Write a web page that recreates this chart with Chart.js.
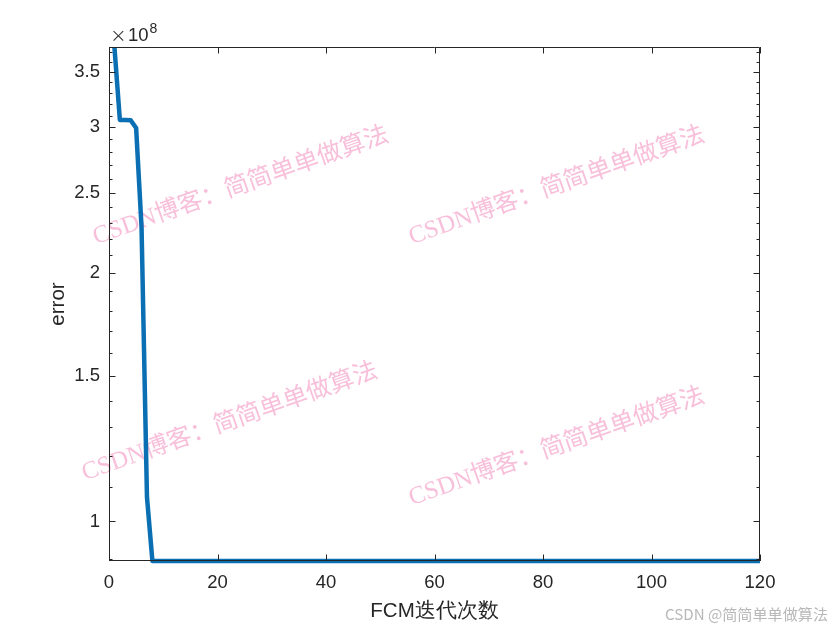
<!DOCTYPE html>
<html>
<head>
<meta charset="utf-8">
<script src="https://cdn.jsdelivr.net/npm/chart.js@4.4.1/dist/chart.umd.min.js"></script>
<style>
  html, body { margin: 0; padding: 0; background: #ffffff; }
  #wrap { width: 840px; height: 630px; position: relative; }
</style>
</head>
<body>
<div id="wrap"><canvas id="c" width="840" height="630"></canvas></div>
<script>
// ---- data (error in units of 1e8) ----
const iterations = [
  1,2,3,4,5,6,7,8,9,10,11,12,13,14,15,16,17,18,19,20,
  21,22,23,24,25,26,27,28,29,30,31,32,33,34,35,36,37,38,39,40,
  41,42,43,44,45,46,47,48,49,50,51,52,53,54,55,56,57,58,59,60,
  61,62,63,64,65,66,67,68,69,70,71,72,73,74,75,76,77,78,79,80,
  81,82,83,84,85,86,87,88,89,90,91,92,93,94,95,96,97,98,99,100,
  101,102,103,104,105,106,107,108,109,110,111,112,113,114,115,116,117,118,119,120
];
const errorValues = [
  3.753,3.063,3.063,3.060,2.995,2.27,1.07,0.8956,0.8956,0.8956,
  0.8956,0.8956,0.8956,0.8956,0.8956,0.8956,0.8956,0.8956,0.8956,0.8956,
  0.8956,0.8956,0.8956,0.8956,0.8956,0.8956,0.8956,0.8956,0.8956,0.8956,
  0.8956,0.8956,0.8956,0.8956,0.8956,0.8956,0.8956,0.8956,0.8956,0.8956,
  0.8956,0.8956,0.8956,0.8956,0.8956,0.8956,0.8956,0.8956,0.8956,0.8956,
  0.8956,0.8956,0.8956,0.8956,0.8956,0.8956,0.8956,0.8956,0.8956,0.8956,
  0.8956,0.8956,0.8956,0.8956,0.8956,0.8956,0.8956,0.8956,0.8956,0.8956,
  0.8956,0.8956,0.8956,0.8956,0.8956,0.8956,0.8956,0.8956,0.8956,0.8956,
  0.8956,0.8956,0.8956,0.8956,0.8956,0.8956,0.8956,0.8956,0.8956,0.8956,
  0.8956,0.8956,0.8956,0.8956,0.8956,0.8956,0.8956,0.8956,0.8956,0.8956,
  0.8956,0.8956,0.8956,0.8956,0.8956,0.8956,0.8956,0.8956,0.8956,0.8956,
  0.8956,0.8956,0.8956,0.8956,0.8956,0.8956,0.8956,0.8956,0.8956,0.8956
];
const xTicks = [0, 20, 40, 60, 80, 100, 120];
const yMajorTicks = [1, 1.5, 2, 2.5, 3, 3.5];
const yMinorTicks = [0.9,1.1,1.2,1.3,1.4,1.6,1.7,1.8,1.9,2.1,2.2,2.3,2.4,2.6,2.7,2.8,2.9,3.1,3.2,3.3,3.4,3.6,3.7];
const xLabel = 'FCM迭代次数';
const yLabel = 'error';
const exponentTimes = '×';
const exponentBase = '10';
const exponentPower = '8';
const watermarkText = 'CSDN博客：简简单单做算法';
const footerText = 'CSDN @简简单单做算法';

const AX = '#262626';
const TICK_FONT = 'Liberation Sans, Arial, sans-serif';

const points = iterations.map((x, i) => ({ x: x, y: errorValues[i] }));

const decorPlugin = {
  id: 'decor',
  beforeDatasetsDraw(chart) {
    const ctx = chart.ctx;
    ctx.save();
    ctx.fillStyle = 'rgba(246, 170, 205, 0.75)';
    const marks = [[97, 247], [413, 247], [86, 483], [413, 508]];
    const ang = -19.4 * Math.PI / 180;
    const fam = '"Liberation Serif", "Noto Sans CJK SC", serif';
    ctx.font = '24px ' + fam;
    const w = ctx.measureText(watermarkText).width;
    const size = 24 * 312 / w;
    ctx.font = size.toFixed(2) + 'px ' + fam;
    ctx.textAlign = 'left';
    ctx.textBaseline = 'alphabetic';
    marks.forEach(([mx, my]) => {
      ctx.save();
      ctx.translate(mx, my);
      ctx.rotate(ang);
      ctx.fillText(watermarkText, 0, -3);
      ctx.restore();
    });
    ctx.restore();
  },
  afterDraw(chart) {
    const ctx = chart.ctx;
    const xs = chart.scales.x, ys = chart.scales.y;
    const a = chart.chartArea;
    ctx.save();
    // box
    ctx.strokeStyle = AX;
    ctx.lineWidth = 1;
    ctx.beginPath();
    ctx.moveTo(a.left + 0.5, a.top + 0.5);
    ctx.lineTo(a.right - 0.5, a.top + 0.5);
    ctx.lineTo(a.right - 0.5, a.bottom - 0.5);
    ctx.lineTo(a.left + 0.5, a.bottom - 0.5);
    ctx.closePath();
    ctx.stroke();
    // x ticks inward (bottom and top)
    ctx.beginPath();
    xTicks.forEach(v => {
      const px = Math.round(xs.getPixelForValue(v)) + 0.5;
      ctx.moveTo(px, a.bottom); ctx.lineTo(px, a.bottom - 6.5);
      ctx.moveTo(px, a.top); ctx.lineTo(px, a.top + 6.5);
    });
    // y major ticks
    yMajorTicks.forEach(v => {
      const py = Math.round(ys.getPixelForValue(v)) + 0.5;
      ctx.moveTo(a.left, py); ctx.lineTo(a.left + 6.5, py);
      ctx.moveTo(a.right, py); ctx.lineTo(a.right - 6.5, py);
    });
    // y minor ticks
    yMinorTicks.forEach(v => {
      const py = Math.round(ys.getPixelForValue(v)) + 0.5;
      ctx.moveTo(a.left, py); ctx.lineTo(a.left + 3.5, py);
      ctx.moveTo(a.right, py); ctx.lineTo(a.right - 3.5, py);
    });
    ctx.stroke();

    // exponent
    ctx.fillStyle = AX;
    ctx.textAlign = 'left';
    ctx.textBaseline = 'alphabetic';
    ctx.font = '300 20px "DejaVu Sans", sans-serif';
    ctx.fillText(exponentTimes, a.left + 1, a.top - 5);
    ctx.font = '18.5px ' + TICK_FONT;
    ctx.fillText(exponentBase, a.left + 19, a.top - 6);
    const bw = ctx.measureText(exponentBase).width;
    ctx.font = '14px ' + TICK_FONT;
    ctx.fillText(exponentPower, a.left + 20 + bw, a.top - 14);

    // axis titles
    ctx.font = '20.5px ' + TICK_FONT;
    ctx.textAlign = 'center';
    ctx.fillText(xLabel, (a.left + a.right) / 2, 617);
    ctx.save();
    ctx.translate(64, (a.top + a.bottom) / 2);
    ctx.rotate(-Math.PI / 2);
    ctx.fillText(yLabel, 0, 0);
    ctx.restore();

    // footer
    ctx.fillStyle = '#b8b8b8';
    ctx.font = '15px "Noto Sans CJK SC", sans-serif';
    const fw = ctx.measureText(footerText).width;
    const fs = 15 * 163 / fw;
    ctx.font = fs.toFixed(2) + 'px "Noto Sans CJK SC", sans-serif';
    ctx.textAlign = 'left';
    ctx.textBaseline = 'middle';
    ctx.fillText(footerText, 665, 614);
    ctx.restore();
  }
};

new Chart(document.getElementById('c'), {
  type: 'line',
  data: {
    datasets: [{
      data: points,
      borderColor: '#0b6fb3',
      backgroundColor: '#0b6fb3',
      borderWidth: 4.5,
      pointRadius: 0,
      tension: 0,
      fill: false,
      clip: { left: 5, top: 0, right: 0, bottom: 5 },
      borderJoinStyle: 'round'
    }]
  },
  options: {
    responsive: false,
    animation: false,
    devicePixelRatio: 1,
    layout: { padding: { left: 0, top: 47, right: 80, bottom: 0 } },
    plugins: { legend: { display: false }, tooltip: { enabled: false } },
    scales: {
      x: {
        type: 'linear',
        min: 0, max: 120,
        grid: { display: false, drawTicks: false },
        border: { display: false },
        afterFit(s) { s.height = 69; },
        afterBuildTicks(s) { s.ticks = xTicks.map(v => ({ value: v })); },
        ticks: {
          padding: 11,
          color: AX,
          font: { family: TICK_FONT, size: 18.5 },
          maxRotation: 0,
          callback: v => String(v)
        }
      },
      y: {
        type: 'logarithmic',
        min: 0.8956, max: 3.753,
        grid: { display: false, drawTicks: false },
        border: { display: false },
        afterFit(s) { s.width = 109; },
        afterBuildTicks(s) { s.ticks = yMajorTicks.map(v => ({ value: v })); },
        ticks: {
          padding: 9,
          color: AX,
          font: { family: TICK_FONT, size: 18.5 },
          callback: v => String(v)
        }
      }
    }
  },
  plugins: [decorPlugin]
});
</script>
</body>
</html>
